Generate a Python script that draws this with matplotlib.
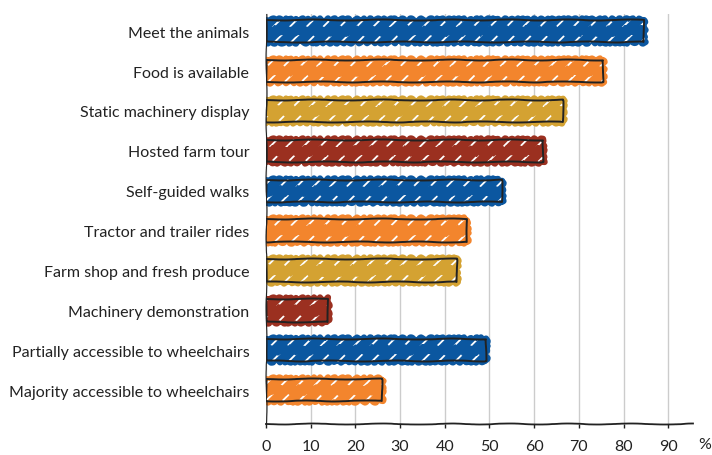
import matplotlib
matplotlib.use("Agg")
import matplotlib.pyplot as plt
import matplotlib.transforms as mtransforms

# values
categories = [
    "Meet the animals",
    "Food is available",
    "Static machinery display",
    "Hosted farm tour",
    "Self-guided walks",
    "Tractor and trailer rides",
    "Farm shop and fresh produce",
    "Machinery demonstration",
    "Partially accessible to wheelchairs",
    "Majority accessible to wheelchairs",
]
values = [84.5, 75.3, 66.5, 62.0, 52.7, 44.9, 42.7, 13.9, 49.2, 26.0]
colors = ["#0b57a0", "#f3852d", "#d4a232", "#9b3020"] * 3
colors = colors[:len(categories)]
xticks = [0, 10, 20, 30, 40, 50, 60, 70, 80, 90]

plt.rcParams['font.family'] = ['Lato', 'DejaVu Sans']
plt.rcParams['hatch.linewidth'] = 1.3

fig = plt.figure(figsize=(7.12, 4.56), dpi=100)
ax = fig.add_axes([0.3736, 0.068, 0.5994, 0.899])

ypos = list(range(len(categories)))
h = 0.56
strip = 0.13

# rough coloured fill
fill = ax.barh(ypos, values, height=h, color=colors, edgecolor=colors,
               linewidth=4.5, zorder=2)
for b in fill:
    b.set_joinstyle('round')
    b.set_capstyle('round')
    b.set_sketch_params(scale=1.6, length=8, randomness=3)

# white scribble gaps along top and bottom edges
for off in (-h / 2 + strip / 2 + 0.02, h / 2 - strip / 2 - 0.02):
    hat = ax.barh([y + off for y in ypos], values, height=strip, fill=False,
                  hatch='//', edgecolor='white', linewidth=0, zorder=3)
    for b in hat:
        b.set_sketch_params(scale=1, length=10, randomness=4)

# black outline
out = ax.barh(ypos, values, height=h, fill=False, edgecolor='#222222',
              linewidth=1.4, zorder=4)
for b in out:
    b.set_joinstyle('round')
    b.set_sketch_params(scale=0.5, length=80, randomness=3)

ax.set_ylim(len(categories) - 0.15, -0.43)
ax.set_xlim(0, 95.5)
ax.set_yticks(ypos)
ax.set_yticklabels(categories, fontsize=11.5, color='#222222')
ax.set_xticks(xticks)
ax.set_xticklabels([str(t) for t in xticks], fontsize=11.5, color='#222222')
ax.tick_params(axis='y', length=0, pad=12)
ax.tick_params(axis='x', length=3, width=1, pad=8, color='#222222')

ax.grid(axis='x', color='#cccccc', linewidth=1, zorder=0)
ax.set_axisbelow(True)
for s in ['top', 'right']:
    ax.spines[s].set_visible(False)
ax.spines['left'].set_color('#222222')
ax.spines['bottom'].set_color('#222222')
ax.spines['bottom'].set_linewidth(1.3)
ax.spines['left'].set_sketch_params(scale=0.5, length=80, randomness=3)
ax.spines['bottom'].set_sketch_params(scale=0.5, length=80, randomness=3)

trans = mtransforms.blended_transform_factory(ax.transData, ax.transAxes)
ax.text(98.2, -0.05, '%', transform=trans, fontsize=11.5,
        color='#222222', ha='center', va='center', clip_on=False)

fig.savefig('out.png', dpi=100)
